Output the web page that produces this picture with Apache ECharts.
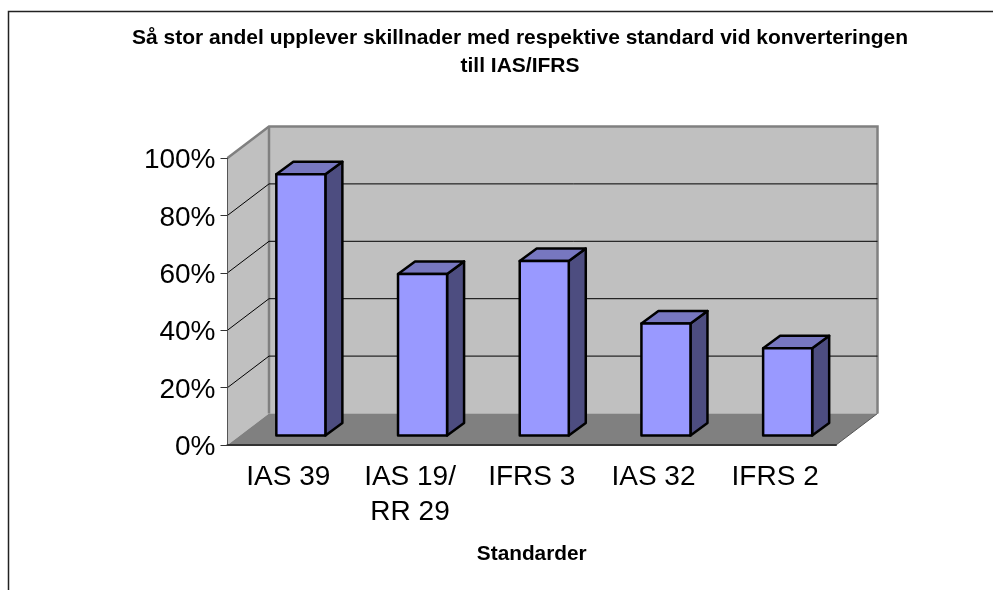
<!DOCTYPE html>
<html>
<head>
<meta charset="utf-8">
<style>html,body{margin:0;padding:0;background:#fff}#c{width:993px;height:590px}</style>
<script src="https://cdn.jsdelivr.net/npm/echarts@6/dist/echarts.min.js"></script>
</head>
<body>
<div id="c"></div>
<script>
const categories = ['IAS 39', 'IAS 19/\nRR 29', 'IFRS 3', 'IAS 32', 'IFRS 2'];
const values = [91, 56.3, 60.8, 39, 30.4];
const yTicks = [20, 40, 60, 80, 100];
const titleText = 'Så stor andel upplever skillnader med respektive standard vid konverteringen\ntill IAS/IFRS';
const xName = 'Standarder';
const FONT = '"Liberation Sans", Arial, sans-serif';
const DX = 41.5, DY = -31.5;       // chart depth
const GAPX = 12.5, GAPY = -9.5;    // bar offset from the front edge
const BDX = 17, BDY = -12.5;       // bar depth

const chart = echarts.init(document.getElementById('c'), null, {renderer: 'canvas'});

function renderWalls(params, api) {
  const c = params.coordSys;
  const L = c.x, R = c.x + c.width, T = c.y, B = c.y + c.height;
  const wall = {fill: '#c0c0c0'};
  const edge = {fill: 'none', stroke: '#808080', lineWidth: 2.5};
  return {type: 'group', children: [
    {type: 'polygon', shape: {points: [[L + DX, T + DY], [R + DX, T + DY], [R + DX, B + DY], [L + DX, B + DY]]}, style: wall},
    {type: 'polygon', shape: {points: [[L, T], [L + DX, T + DY], [L + DX, B + DY], [L, B]]}, style: wall},
    {type: 'polygon', shape: {points: [[L, B], [L + DX, B + DY], [R + DX, B + DY], [R, B]]}, style: {fill: '#808080'}},
    {type: 'polyline', shape: {points: [[L, T], [L + DX, T + DY], [R + DX, T + DY], [R + DX, B + DY]]}, style: edge},
    {type: 'line', shape: {x1: R + DX, y1: B + DY, x2: R, y2: B}, style: {stroke: '#555', lineWidth: 1}},
    {type: 'line', shape: {x1: L + DX, y1: T + DY, x2: L + DX, y2: B + DY}, style: edge}
  ]};
}

function renderGrid(params, api) {
  const c = params.coordSys;
  const y = api.coord([0, api.value(1)])[1];
  const L = c.x, R = c.x + c.width;
  const points = api.value(1) === 100 ? [] : [[L, y], [L + DX, y + DY], [R + DX, y + DY]];
  return {type: 'polyline', shape: {points}, style: {fill: 'none', stroke: '#000', lineWidth: 1}};
}

function renderBar(params, api) {
  const top = api.coord([api.value(0), api.value(1)]);
  const base = api.coord([api.value(0), 0]);
  const w = api.size([1, 0])[0] * 0.403;
  const x0 = top[0] + GAPX - w / 2, x1 = x0 + w;
  const yT = top[1] + GAPY, yB = base[1] + GAPY;
  const line = {stroke: '#000', lineWidth: 2.5, lineJoin: 'round'};
  return {type: 'group', children: [
    {type: 'polygon', shape: {points: [[x1, yT], [x1 + BDX, yT + BDY], [x1 + BDX, yB + BDY], [x1, yB]]}, style: {fill: '#4d4d80', ...line}},
    {type: 'polygon', shape: {points: [[x0, yT], [x0 + BDX, yT + BDY], [x1 + BDX, yT + BDY], [x1, yT]]}, style: {fill: '#7777c0', ...line}},
    {type: 'rect', shape: {x: x0, y: yT, width: w, height: yB - yT}, style: {fill: '#9999ff', ...line}}
  ]};
}

chart.setOption({
  animation: false,
  backgroundColor: '#fff',
  title: {
    text: titleText, left: 515, top: 19, textAlign: 'center',
    textStyle: {fontFamily: FONT, fontSize: 21, fontWeight: 'bold', color: '#000', lineHeight: 28}
  },
  grid: {left: 227.5, right: 157, top: 158, bottom: 145},
  xAxis: {
    type: 'category', data: categories, z: 5,
    name: xName, nameLocation: 'middle', nameGap: 99,
    nameTextStyle: {fontFamily: FONT, fontSize: 20.8, fontWeight: 'bold', color: '#000'},
    axisLine: {lineStyle: {color: '#333', width: 2}},
    axisTick: {alignWithLabel: false, length: 7, lineStyle: {color: '#666', width: 1}},
    axisLabel: {fontFamily: FONT, fontSize: 28, color: '#000', margin: 15, lineHeight: 35, interval: 0}
  },
  yAxis: {
    type: 'value', min: 0, max: 100, interval: 20, z: 5,
    axisLine: {show: true, lineStyle: {color: '#555', width: 1}},
    axisTick: {show: true, length: 7, lineStyle: {color: '#333', width: 1}},
    axisLabel: {fontFamily: FONT, fontSize: 28, color: '#000', margin: 12, formatter: '{value}%', verticalAlign: 'top', lineHeight: 5},
    splitLine: {show: false}
  },
  graphic: [{
    type: 'polyline', silent: true,
    shape: {points: [[8.5, 590], [8.5, 11.5], [993, 11.5]]},
    style: {fill: 'none', stroke: '#222', lineWidth: 1.5}
  }],
  series: [
    {type: 'custom', coordinateSystem: 'cartesian2d', data: [[0, 0]], renderItem: renderWalls, z: 1, silent: true},
    {type: 'custom', coordinateSystem: 'cartesian2d', data: yTicks.map(v => [0, v]), renderItem: renderGrid, z: 2, silent: true},
    {type: 'custom', coordinateSystem: 'cartesian2d', data: values.map((v, i) => [i, v]), renderItem: renderBar, z: 3, silent: true}
  ]
});
</script>
</body>
</html>
